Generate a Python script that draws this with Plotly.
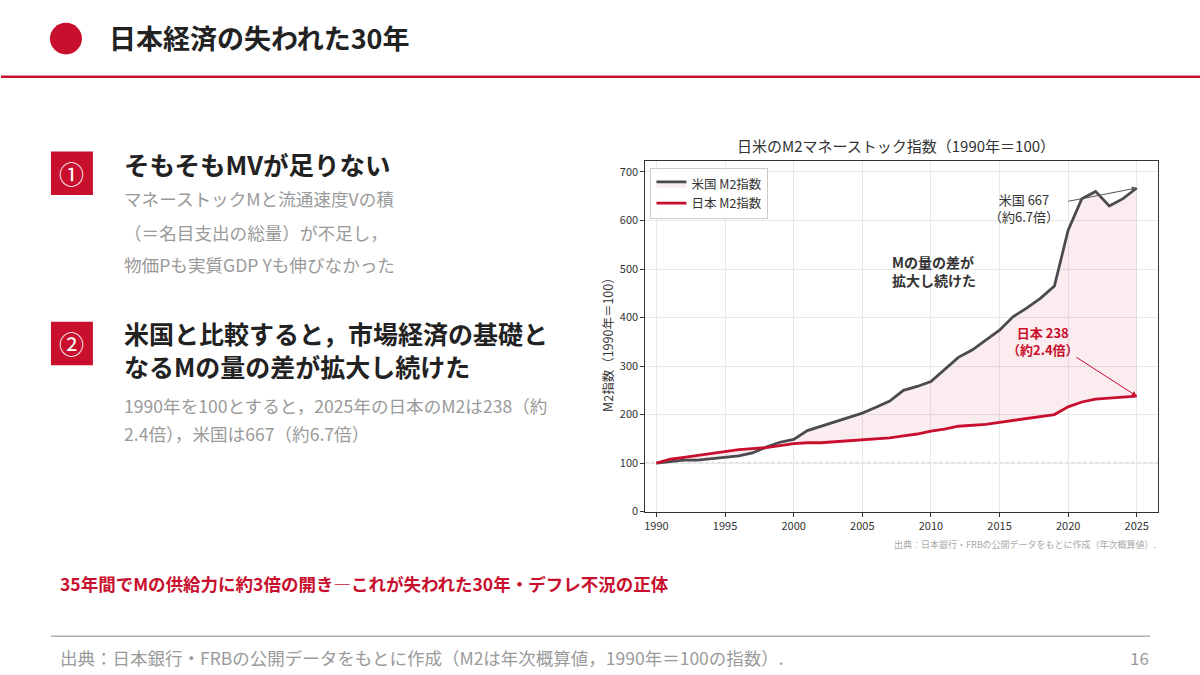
import plotly.graph_objects as go

years = list(range(1990, 2026))
us_m2 = [100, 103, 106, 106, 109, 112, 115, 121, 133, 143, 149, 167, 176, 185, 194, 203, 215, 228,
         250, 258, 268, 292, 318, 333, 353, 374, 402, 420, 440, 465, 580, 645, 660, 630, 645, 667]
jp_m2 = [100, 108, 112, 116, 120, 124, 128, 130, 132, 136, 140, 142, 142, 144, 146, 148, 150, 152,
         156, 160, 166, 170, 176, 178, 180, 184, 188, 192, 196, 200, 216, 226, 232, 234, 236, 238]
x_ticks = [1990, 1995, 2000, 2005, 2010, 2015, 2020, 2025]
y_ticks = [0, 100, 200, 300, 400, 500, 600, 700]

RED = "#c8102e"
DARK = "#4a4a50"
FONT = "Noto Sans CJK JP"
W, H = 1200, 675

def px(x):
    return x / W

def py(y):
    return 1 - y / H

fig = go.Figure()
# hidden base for fill
fig.add_trace(go.Scatter(x=years, y=jp_m2, mode="lines", line=dict(width=0, color=RED),
                         showlegend=False, hoverinfo="skip"))
fig.add_trace(go.Scatter(x=years, y=us_m2, mode="lines", name="米国 M2指数",
                         line=dict(color=DARK, width=2.8), fill="tonexty",
                         fillcolor="rgba(200,16,46,0.08)"))
fig.add_trace(go.Scatter(x=years, y=jp_m2, mode="lines", name="日本 M2指数",
                         line=dict(color=RED, width=2.8)))

fig.update_layout(
    width=W, height=H,
    margin=dict(l=0, r=0, t=0, b=0),
    paper_bgcolor="white", plot_bgcolor="white",
    font=dict(family=FONT, color="#333"),
    showlegend=True,
    legend=dict(x=px(650), y=py(170), xanchor="left", yanchor="top", traceorder="normal",
                bgcolor="rgba(255,255,255,0.9)", bordercolor="#cccccc", borderwidth=1,
                font=dict(size=12.5, color="#333"), tracegroupgap=0, itemwidth=30),
    xaxis=dict(domain=[px(645), px(1158)], range=[1989.2, 2026.55],
               tickvals=x_ticks, ticktext=[str(t) for t in x_ticks],
               ticks="outside", ticklen=4, tickcolor="#333",
               showgrid=True, gridcolor="#e8e8e8", gridwidth=1,
               showline=True, linecolor="#333", linewidth=1.2, mirror=True,
               tickfont=dict(size=11, color="#333"), zeroline=False),
    yaxis=dict(domain=[py(517), py(163)], range=[0, 722],
               tickvals=y_ticks, ticks="outside", ticklen=4, tickcolor="#333",
               showgrid=True, gridcolor="#e8e8e8", gridwidth=1,
               showline=True, linecolor="#333", linewidth=1.2, mirror=True,
               tickfont=dict(size=11, color="#333"), zeroline=False),
)

shapes = [
    dict(type="line", xref="x domain", yref="y", x0=0, x1=1, y0=100, y1=100,
         line=dict(color="#999999", width=1, dash="dot"), layer="below"),
    dict(type="circle", xref="paper", yref="paper", x0=px(49), x1=px(81), y0=py(55), y1=py(23),
         fillcolor=RED, line=dict(width=0)),
    dict(type="line", xref="paper", yref="paper", x0=0, x1=1, y0=py(77.5), y1=py(77.5),
         line=dict(color=RED, width=2.5)),
    dict(type="rect", xref="paper", yref="paper", x0=px(50), x1=px(92), y0=py(197), y1=py(153),
         fillcolor=RED, line=dict(width=0)),
    dict(type="rect", xref="paper", yref="paper", x0=px(50), x1=px(92), y0=py(369), y1=py(325),
         fillcolor=RED, line=dict(width=0)),
    dict(type="line", xref="paper", yref="paper", x0=px(50), x1=px(1150), y0=py(643), y1=py(643),
         line=dict(color="#b0b0b8", width=1.5)),
]
fig.update_layout(shapes=shapes)

def txt(x, y, text, size, color, bold=False, xanchor="left", yanchor="middle", align="left"):
    t = f"<b>{text}</b>" if bold else text
    return dict(xref="paper", yref="paper", x=px(x), y=py(y), text=t, showarrow=False,
                font=dict(size=size, color=color, family=FONT), xanchor=xanchor,
                yanchor=yanchor, align=align)

BODY = 17.6
annos = [
    txt(106, 38, "日本経済の失われた30年", 27, "#222", bold=True),
    txt(71, 175, "①", 25, "white", xanchor="center"),
    txt(121, 165, "そもそもMVが足りない", 25.5, "#222", bold=True),
    txt(121, 201, "マネーストックMと流通速度Vの積", BODY, "#9a9a9a"),
    txt(121, 235, "（＝名目支出の総量）が不足し，", BODY, "#9a9a9a"),
    txt(121, 267, "物価Pも実質GDP Yも伸びなかった", BODY, "#9a9a9a"),
    txt(71, 347, "②", 25, "white", xanchor="center"),
    txt(121, 336, "米国と比較すると，市場経済の基礎と", 25, "#222", bold=True),
    txt(121, 370, "なるMの量の差が拡大し続けた", 25, "#222", bold=True),
    txt(121, 410, "1990年を100とすると，2025年の日本のM2は238（約", BODY, "#9a9a9a"),
    txt(121, 438, "2.4倍），米国は667（約6.7倍）", BODY, "#9a9a9a"),
    txt(57, 590, "35年間でMの供給力に約3倍の開き―これが失われた30年・デフレ不況の正体", 17.5, RED, bold=True),
    txt(57, 664, "出典：日本銀行・FRBの公開データをもとに作成（M2は年次概算値，1990年＝100の指数）.", 17.5, "#9a9a9a"),
    txt(1151, 664, "16", 17, "#9a9a9a", xanchor="right"),
    txt(896, 147, "日米のM2マネーストック指数（1990年＝100）", 15, "#333", xanchor="center"),
    dict(xref="paper", yref="paper", x=px(607), y=py(345), text="M2指数（1990年＝100）",
         showarrow=False, textangle=-90, font=dict(size=12.5, color="#333", family=FONT),
         xanchor="center", yanchor="middle"),
    txt(1158, 550, "出典：日本銀行・FRBの公開データをもとに作成（年次概算値）.", 9, "#aaaaaa", xanchor="right"),
    dict(xref="x", yref="y", x=2016.8, y=625, text="米国 667<br>（約6.7倍）", showarrow=False,
         font=dict(size=13, color="#333", family=FONT), align="center"),
    dict(xref="x", yref="y", x=2025, y=667, ax=2019.9, ay=639, axref="x", ayref="y",
         text="", showarrow=True, arrowhead=2, arrowsize=1, arrowwidth=1, arrowcolor="#555"),
    dict(xref="x", yref="y", x=2007.0, y=496, text="<b>Mの量の差が<br>拡大し続けた</b>",
         showarrow=False, xanchor="left", align="left",
         font=dict(size=14, color="#333", family=FONT)),
    dict(xref="x", yref="y", x=2018.2, y=352, text="<b>日本 238<br>（約2.4倍）</b>", showarrow=False,
         font=dict(size=13, color=RED, family=FONT), align="center"),
    dict(xref="x", yref="y", x=2025, y=238, ax=2020.5, ay=320, axref="x", ayref="y",
         text="", showarrow=True, arrowhead=2, arrowsize=1, arrowwidth=1, arrowcolor=RED),
]
fig.update_layout(annotations=annos)

fig.write_html("out.html")
